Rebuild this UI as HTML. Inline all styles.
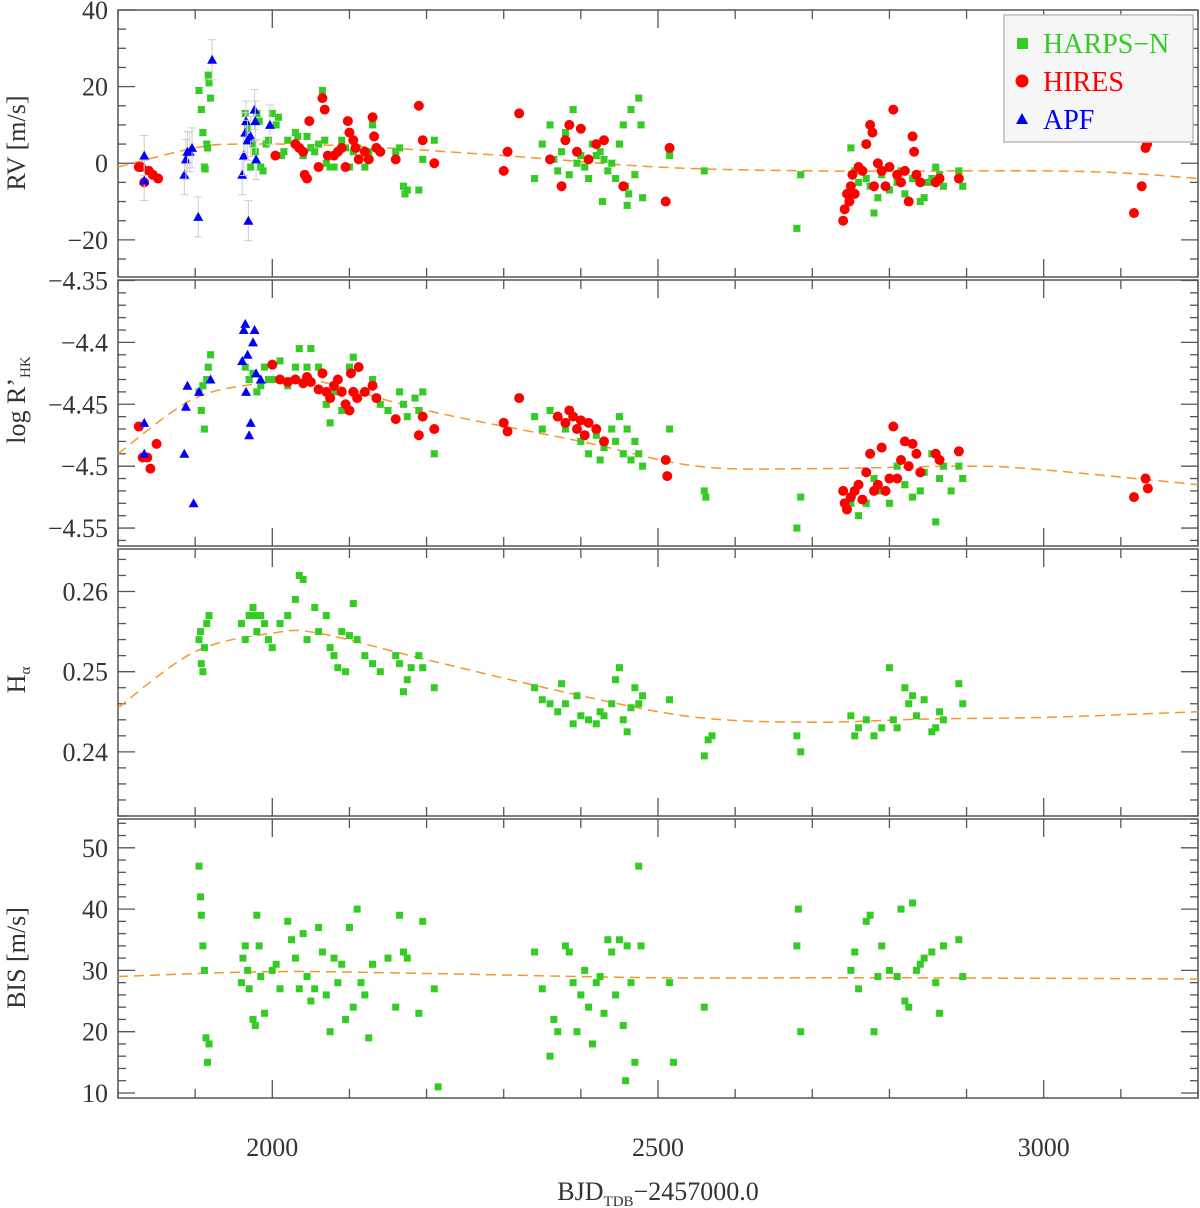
<!DOCTYPE html>
<html><head><meta charset="utf-8"><style>
body{margin:0;background:#fff}
svg{display:block}
text{font-family:"Liberation Serif",serif;fill:#333}
</style></head><body>
<svg id="chart" width="1200" height="1208" viewBox="0 0 1200 1208" xmlns="http://www.w3.org/2000/svg"></svg>
<script>
// ---------- DATA ----------
const rvHarps=[[1905,19],[1908,14],[1910,8],[1912,-1],[1913,-1.5],[1915,5],[1916,4],[1917,23],[1918,21],[1920,17],[1965,13],[1968,9],[1972,-1],[1975,5],[1978,3],[1980,13],[1983,11],[1985,-1],[1988,-2],[1992,5],[1995,6],[2000,13],[2005,10],[2008,12],[2012,2],[2015,3],[2020,6],[2030,8],[2033,7],[2040,2],[2045,7],[2050,4],[2055,3],[2060,5],[2065,19],[2068,6],[2070,0],[2075,-1],[2080,-1],[2085,3],[2090,6],[2095,4],[2100,-1],[2105,3],[2110,4],[2120,-1],[2125,3],[2130,10],[2135,4],[2160,3],[2165,4],[2170,-6],[2172,-8],[2175,-7],[2190,-7],[2195,1],[2210,6],[2340,-4],[2350,5],[2360,10],[2365,1],[2370,-2],[2375,3],[2380,8],[2385,-3],[2390,14],[2395,0],[2400,2],[2405,-1],[2410,-4],[2415,5],[2420,2],[2425,3],[2428,-10],[2430,1],[2435,-2],[2440,0],[2445,-4],[2450,5],[2455,10],[2458,-6],[2460,-11],[2462,-8],[2465,14],[2470,-3],[2475,17],[2478,10],[2480,-9],[2515,2],[2560,-2],[2680,-17],[2685,-3],[2750,4],[2755,-2],[2760,-5],[2770,-4],[2775,-6],[2780,-13],[2785,-9],[2790,-3],[2800,-7],[2810,-5],[2815,-2],[2820,-8],[2830,-4],[2840,-10],[2845,-9],[2850,-5],[2855,-4],[2860,-1],[2865,-3],[2870,-6],[2890,-2],[2895,-6]];
const rvHires=[[1827,-1],[1830,-1],[1834,-5],[1840,-2],[1845,-3],[1852,-4],[2004,2],[2030,5],[2035,4],[2040,3],[2042,-3],[2045,-4],[2048,11],[2060,-1],[2065,17],[2068,14],[2072,2],[2080,2],[2085,3],[2090,4],[2095,-1],[2098,11],[2100,8],[2105,6],[2108,4],[2112,1],[2120,3],[2125,1],[2130,12],[2132,7],[2135,4],[2140,3],[2160,1],[2190,15],[2195,6],[2210,0],[2300,-2],[2305,3],[2320,13],[2360,1],[2375,-6],[2380,6],[2385,10],[2395,3],[2400,9],[2410,1],[2420,5],[2430,6],[2455,-6],[2515,4],[2510,-10],[2740,-15],[2742,-12],[2745,-8],[2748,-10],[2750,-6],[2752,-3],[2755,-8],[2760,-1],[2765,-2],[2770,5],[2775,10],[2778,8],[2780,-6],[2785,0],[2790,-2],[2795,-6],[2800,-1],[2805,14],[2810,-3],[2815,-5],[2820,-2],[2825,-10],[2830,7],[2832,3],[2835,-3],[2840,-5],[2860,-5],[2865,-4],[2890,-4],[3117,-13],[3127,-6],[3132,4],[3134,5]];
const rvApf=[[1834,2],[1834,-4.5],[1886,-3],[1888,1],[1890,3],[1893,3],[1896,4],[1904,-14],[1922,27],[1961,-3],[1963,2],[1965,8],[1966,11],[1968,6],[1969,-15],[1972,7],[1977,14],[1978,11],[1979,1],[1997,10]];
const rhkHarps=[[1905,-4.44],[1908,-4.455],[1910,-4.435],[1912,-4.47],[1915,-4.43],[1917,-4.42],[1920,-4.41],[1965,-4.42],[1970,-4.43],[1975,-4.425],[1980,-4.44],[1985,-4.435],[1990,-4.42],[1995,-4.43],[2000,-4.43],[2010,-4.415],[2020,-4.435],[2030,-4.42],[2035,-4.405],[2045,-4.42],[2050,-4.405],[2060,-4.42],[2070,-4.45],[2075,-4.465],[2080,-4.44],[2090,-4.455],[2100,-4.42],[2105,-4.412],[2120,-4.44],[2130,-4.43],[2140,-4.45],[2150,-4.455],[2165,-4.44],[2170,-4.45],[2175,-4.46],[2185,-4.445],[2190,-4.455],[2195,-4.44],[2210,-4.49],[2340,-4.46],[2350,-4.47],[2360,-4.455],[2370,-4.46],[2380,-4.47],[2400,-4.48],[2410,-4.49],[2420,-4.475],[2425,-4.495],[2430,-4.485],[2440,-4.47],[2445,-4.48],[2450,-4.46],[2455,-4.49],[2460,-4.47],[2465,-4.495],[2470,-4.48],[2475,-4.49],[2480,-4.5],[2515,-4.47],[2560,-4.52],[2562,-4.525],[2680,-4.55],[2685,-4.525],[2750,-4.53],[2760,-4.54],[2770,-4.53],[2780,-4.51],[2790,-4.52],[2800,-4.53],[2810,-4.5],[2820,-4.515],[2830,-4.525],[2840,-4.52],[2845,-4.505],[2855,-4.49],[2860,-4.545],[2865,-4.51],[2870,-4.5],[2880,-4.52],[2890,-4.5],[2895,-4.51]];
const rhkHires=[[1827,-4.468],[1832,-4.493],[1838,-4.493],[1842,-4.502],[1850,-4.482],[2000,-4.418],[2010,-4.43],[2020,-4.432],[2030,-4.43],[2040,-4.433],[2045,-4.428],[2050,-4.432],[2060,-4.438],[2065,-4.425],[2070,-4.44],[2075,-4.445],[2080,-4.435],[2085,-4.43],[2090,-4.44],[2095,-4.45],[2100,-4.455],[2102,-4.425],[2105,-4.44],[2110,-4.445],[2112,-4.42],[2120,-4.44],[2130,-4.435],[2135,-4.445],[2160,-4.462],[2190,-4.475],[2195,-4.46],[2210,-4.47],[2300,-4.465],[2305,-4.472],[2320,-4.445],[2370,-4.46],[2380,-4.465],[2385,-4.455],[2390,-4.46],[2395,-4.47],[2400,-4.463],[2405,-4.475],[2410,-4.465],[2420,-4.47],[2430,-4.48],[2510,-4.495],[2512,-4.508],[2740,-4.52],[2742,-4.53],[2745,-4.535],[2750,-4.525],[2755,-4.52],[2760,-4.515],[2765,-4.527],[2770,-4.505],[2775,-4.49],[2780,-4.52],[2785,-4.515],[2790,-4.485],[2795,-4.52],[2800,-4.51],[2805,-4.468],[2810,-4.51],[2815,-4.495],[2820,-4.48],[2825,-4.5],[2830,-4.482],[2835,-4.49],[2840,-4.505],[2860,-4.49],[2865,-4.495],[2890,-4.488],[3117,-4.525],[3132,-4.51],[3135,-4.518]];
const rhkApf=[[1834,-4.465],[1834,-4.49],[1886,-4.49],[1888,-4.452],[1890,-4.435],[1898,-4.53],[1905,-4.44],[1920,-4.43],[1961,-4.415],[1963,-4.39],[1965,-4.385],[1966,-4.44],[1968,-4.41],[1970,-4.475],[1972,-4.465],[1975,-4.4],[1977,-4.39],[1979,-4.425],[1985,-4.43]];
const haHarps=[[1905,0.254],[1907,0.255],[1908,0.251],[1910,0.25],[1912,0.253],[1915,0.256],[1918,0.257],[1960,0.256],[1965,0.254],[1970,0.257],[1975,0.258],[1978,0.257],[1980,0.255],[1985,0.257],[1990,0.256],[1995,0.254],[2000,0.253],[2010,0.256],[2020,0.257],[2030,0.259],[2035,0.262],[2040,0.2615],[2045,0.254],[2055,0.258],[2060,0.255],[2070,0.257],[2075,0.253],[2080,0.252],[2085,0.2505],[2090,0.255],[2095,0.25],[2100,0.2545],[2105,0.2585],[2110,0.254],[2120,0.252],[2130,0.251],[2140,0.25],[2160,0.252],[2165,0.251],[2170,0.2475],[2175,0.249],[2180,0.2505],[2190,0.252],[2195,0.2505],[2210,0.248],[2340,0.248],[2350,0.2465],[2360,0.246],[2370,0.245],[2375,0.2485],[2380,0.246],[2390,0.2435],[2395,0.247],[2400,0.2445],[2410,0.244],[2420,0.2435],[2425,0.245],[2430,0.2445],[2440,0.246],[2445,0.249],[2450,0.2505],[2455,0.244],[2460,0.2425],[2465,0.2455],[2470,0.248],[2475,0.246],[2480,0.247],[2515,0.2465],[2560,0.2395],[2565,0.2415],[2570,0.242],[2680,0.242],[2685,0.24],[2750,0.2445],[2755,0.242],[2760,0.243],[2770,0.244],[2780,0.242],[2790,0.243],[2800,0.2505],[2805,0.244],[2810,0.243],[2820,0.248],[2825,0.246],[2830,0.247],[2835,0.2445],[2845,0.2465],[2855,0.2425],[2860,0.243],[2865,0.245],[2870,0.244],[2890,0.2485],[2895,0.246]];
const bisHarps=[[1905,47],[1907,42],[1908,39],[1910,34],[1912,30],[1914,19],[1916,15],[1918,18],[1960,28],[1962,32],[1965,34],[1968,30],[1970,27],[1975,22],[1978,21],[1980,39],[1983,34],[1985,29],[1990,23],[2000,30],[2005,31],[2010,27],[2020,38],[2025,35],[2030,32],[2035,27],[2040,36],[2045,29],[2050,25],[2055,27],[2060,37],[2065,33],[2070,26],[2075,20],[2080,32],[2085,28],[2090,31],[2095,22],[2100,37],[2105,24],[2110,40],[2115,28],[2120,26],[2125,19],[2130,31],[2150,32],[2160,24],[2165,39],[2170,33],[2175,32],[2190,23],[2195,38],[2210,27],[2215,11],[2340,33],[2350,27],[2360,16],[2365,22],[2370,20],[2380,34],[2385,33],[2390,28],[2395,20],[2400,26],[2405,30],[2410,24],[2415,18],[2420,28],[2425,29],[2430,23],[2435,35],[2440,33],[2445,26],[2450,35],[2455,21],[2458,12],[2460,34],[2465,28],[2470,15],[2475,47],[2478,34],[2515,28],[2520,15],[2560,24],[2680,34],[2682,40],[2685,20],[2750,30],[2755,33],[2760,27],[2770,38],[2775,39],[2780,20],[2785,29],[2790,34],[2800,30],[2810,29],[2815,40],[2820,25],[2825,24],[2830,41],[2835,30],[2840,31],[2845,32],[2855,33],[2860,28],[2865,23],[2870,34],[2890,35],[2895,29]];
const rvModel=[[1800,-1],[1900,4],[1960,5],[2100,4.5],[2300,2],[2500,-1],[2700,-2],[2900,-2],[3000,-2],[3100,-2.5],[3200,-4]];
const rhkModel=[[1800,-4.49],[1900,-4.445],[2000,-4.432],[2050,-4.43],[2200,-4.455],[2400,-4.48],[2550,-4.5],[2700,-4.502],[2900,-4.5],[3000,-4.503],[3200,-4.515]];
const haModel=[[1800,0.2455],[1900,0.2525],[2000,0.2548],[2060,0.2548],[2200,0.2515],[2400,0.247],[2550,0.2443],[2700,0.2437],[2850,0.2441],[3000,0.2443],[3200,0.245]];
const bisModel=[[1800,29],[2000,29.8],[2200,29.5],[2500,28.8],[2800,28.8],[3200,28.6]];
const xTickLabels=[2000,2500,3000];
const rvTicks=[-20,0,20,40];
const rhkTicks=[-4.55,-4.5,-4.45,-4.4,-4.35];
const haTicks=[0.24,0.25,0.26];
const bisTicks=[10,20,30,40,50];

// ---------- DRAW ----------
const svg=document.getElementById('chart');
const NS='http://www.w3.org/2000/svg';
function mk(tag,attrs,parent){const e=document.createElementNS(NS,tag);for(const k in attrs)e.setAttribute(k,attrs[k]);(parent||svg).appendChild(e);return e;}
const X0=118,X1=1198,XMIN=1800,XMAX=3200;
const xs=v=>X0+(v-XMIN)/(XMAX-XMIN)*(X1-X0);
const panels=[
 {name:'rv',top:10,bot:277,ymin:-29.7,ymax:40,minor:5,major:20,ticks:rvTicks,fmt:v=>v<0?'\u2212'+(-v):''+v},
 {name:'logrhk',top:280,bot:546,ymin:-4.5645,ymax:-4.3496,minor:0.01,major:0.05,ticks:rhkTicks,fmt:v=>'\u2212'+(-v).toFixed(2).replace(/0$/,'').replace(/\.$/,'')},
 {name:'halpha',top:549,bot:816,ymin:0.2320,ymax:0.2653,minor:0.002,major:0.01,ticks:haTicks,fmt:v=>v.toFixed(2)},
 {name:'bis',top:819,bot:1098,ymin:9.18,ymax:54.7,minor:2,major:10,ticks:bisTicks,fmt:v=>''+v}
];
panels.forEach(p=>{p.ys=v=>p.bot-(v-p.ymin)/(p.ymax-p.ymin)*(p.bot-p.top);});
const axc='#555';
panels.forEach((p,pi)=>{
 const g=mk('g',{});
 
 
 mk('rect',{x:X0,y:p.top,width:X1-X0,height:p.bot-p.top,fill:'none',stroke:axc,'stroke-width':1.5},g);
 for(let d=1800;d<=3200;d+=100){const x=xs(d),L=(d%500===0)?18:9;
  mk('line',{x1:x,x2:x,y1:p.bot,y2:p.bot-L,stroke:axc,'stroke-width':1.3},g);
  mk('line',{x1:x,x2:x,y1:p.top,y2:p.top+L,stroke:axc,'stroke-width':1.3},g);}
 const start=Math.ceil(p.ymin/p.minor-1e-6);
 for(let k=start;k*p.minor<=p.ymax+1e-9;k++){const v=k*p.minor,y=p.ys(v);
  const isM=Math.abs(v/p.major-Math.round(v/p.major))<1e-6;const L=isM?17:8;
  mk('line',{x1:X0,x2:X0+L,y1:y,y2:y,stroke:axc,'stroke-width':1.3},g);
  mk('line',{x1:X1,x2:X1-L,y1:y,y2:y,stroke:axc,'stroke-width':1.3},g);}
 p.ticks.forEach(v=>{const t=mk('text',{x:108,y:p.ys(v)+9,'text-anchor':'end','font-size':26},g);t.textContent=p.fmt(v);
  
  });
});
// y titles
function ytitle(txt,y,name,sub){const t=mk('text',{x:0,y:0,transform:`translate(25,${y}) rotate(-90)`,'text-anchor':'middle','font-size':26});
 
 
 if(sub){const a=mk('tspan',{},t);a.textContent=txt;const b=mk('tspan',{'font-size':15,dy:5},t);b.textContent=sub;}else t.textContent=txt;}
ytitle('RV [m/s]',143,'rv-y-axis-title');
ytitle('log R\u2019',400,'logrhk-y-axis-title','HK');
ytitle('H',680,'halpha-y-axis-title','\u03b1');
ytitle('BIS [m/s]',958,'bis-y-axis-title');
// x labels
xTickLabels.forEach(v=>{const t=mk('text',{x:xs(v),y:1156,'text-anchor':'middle','font-size':26});t.textContent=v;
 
 });
{const t=mk('text',{x:658,y:1200,'text-anchor':'middle','font-size':26});
 
 
 const a=mk('tspan',{},t);a.textContent='BJD';const b=mk('tspan',{'font-size':15,dy:6},t);b.textContent='TDB';const c=mk('tspan',{dy:-6},t);c.textContent='\u22122457000.0';}
// models
function model(p,arr,name){let pts=arr.map(d=>[xs(d[0]),p.ys(d[1])]);
 let dstr='M'+pts[0][0]+','+pts[0][1];
 for(let i=0;i<pts.length-1;i++){const p0=pts[Math.max(0,i-1)],p1=pts[i],p2=pts[i+1],p3=pts[Math.min(pts.length-1,i+2)];
  const c1=[p1[0]+(p2[0]-p0[0])/6,p1[1]+(p2[1]-p0[1])/6],c2=[p2[0]-(p3[0]-p1[0])/6,p2[1]-(p3[1]-p1[1])/6];
  dstr+=` C${c1[0]},${c1[1]} ${c2[0]},${c2[1]} ${p2[0]},${p2[1]}`;}
 const e=mk('path',{d:dstr,fill:'none',stroke:'#f5962a','stroke-width':1.5,'stroke-dasharray':'10,6'});
 
 }
const GREEN='#33cc22',RED='#ff0000',BLUE='#0000ff';
function pts(p,arr,kind,name,err){
 const g=mk('g',{});
 
 
 arr.forEach(d=>{const x=xs(d[0]),y=p.ys(d[1]);
  if(err){mk('line',{x1:x,x2:x,y1:y-err,y2:y+err,stroke:'#ccc','stroke-width':1},g);mk('line',{x1:x-4,x2:x+4,y1:y-err,y2:y-err,stroke:'#ccc'},g);mk('line',{x1:x-4,x2:x+4,y1:y+err,y2:y+err,stroke:'#ccc'},g);}
  if(kind==='sq')mk('rect',{x:x-3.5,y:y-3.5,width:7,height:7,fill:GREEN},g);
  else if(kind==='ci')mk('circle',{cx:x,cy:y,r:5,fill:RED},g);
  else mk('path',{d:`M${x},${y-5} L${x+5},${y+4} L${x-5},${y+4}Z`,fill:BLUE},g);});}
const [P1,P2,P3,P4]=panels;
model(P1,rvModel,'rv-model-curve');model(P2,rhkModel,'logrhk-model-curve');model(P3,haModel,'halpha-model-curve');model(P4,bisModel,'bis-model-curve');
pts(P1,rvHarps,'sq','rv-harpsn-points',3);pts(P1,rvHires,'ci','rv-hires-points',0);pts(P1,rvApf,'tr','rv-apf-points',20);
pts(P2,rhkHarps,'sq','logrhk-harpsn-points',3);pts(P2,rhkHires,'ci','logrhk-hires-points',0);pts(P2,rhkApf,'tr','logrhk-apf-points',0);
pts(P3,haHarps,'sq','halpha-harpsn-points',0);pts(P4,bisHarps,'sq','bis-harpsn-points',0);
// legend
const lg=mk('g',{});


mk('rect',{x:1004,y:15,width:189,height:127,fill:'#f6f6f6',stroke:'#bbb','stroke-width':1.5},lg);
[['HARPS\u2212N',GREEN,'sq',43],['HIRES',RED,'ci',81],['APF',BLUE,'tr',119]].forEach(e=>{
 const g=mk('g',{},lg);
 
 
 const x=1022,y=e[3];
 if(e[2]==='sq')mk('rect',{x:x-5,y:y-5,width:11,height:11,fill:e[1]},g);
 else if(e[2]==='ci')mk('circle',{cx:x,cy:y,r:6.5,fill:e[1]},g);
 else mk('path',{d:`M${x},${y-6} L${x+6},${y+5} L${x-6},${y+5}Z`,fill:e[1]},g);
 const t=mk('text',{x:1043,y:y+10,'font-size':28,fill:e[1]},g);t.style.fill=e[1];t.textContent=e[0];});
</script>
</body></html>
